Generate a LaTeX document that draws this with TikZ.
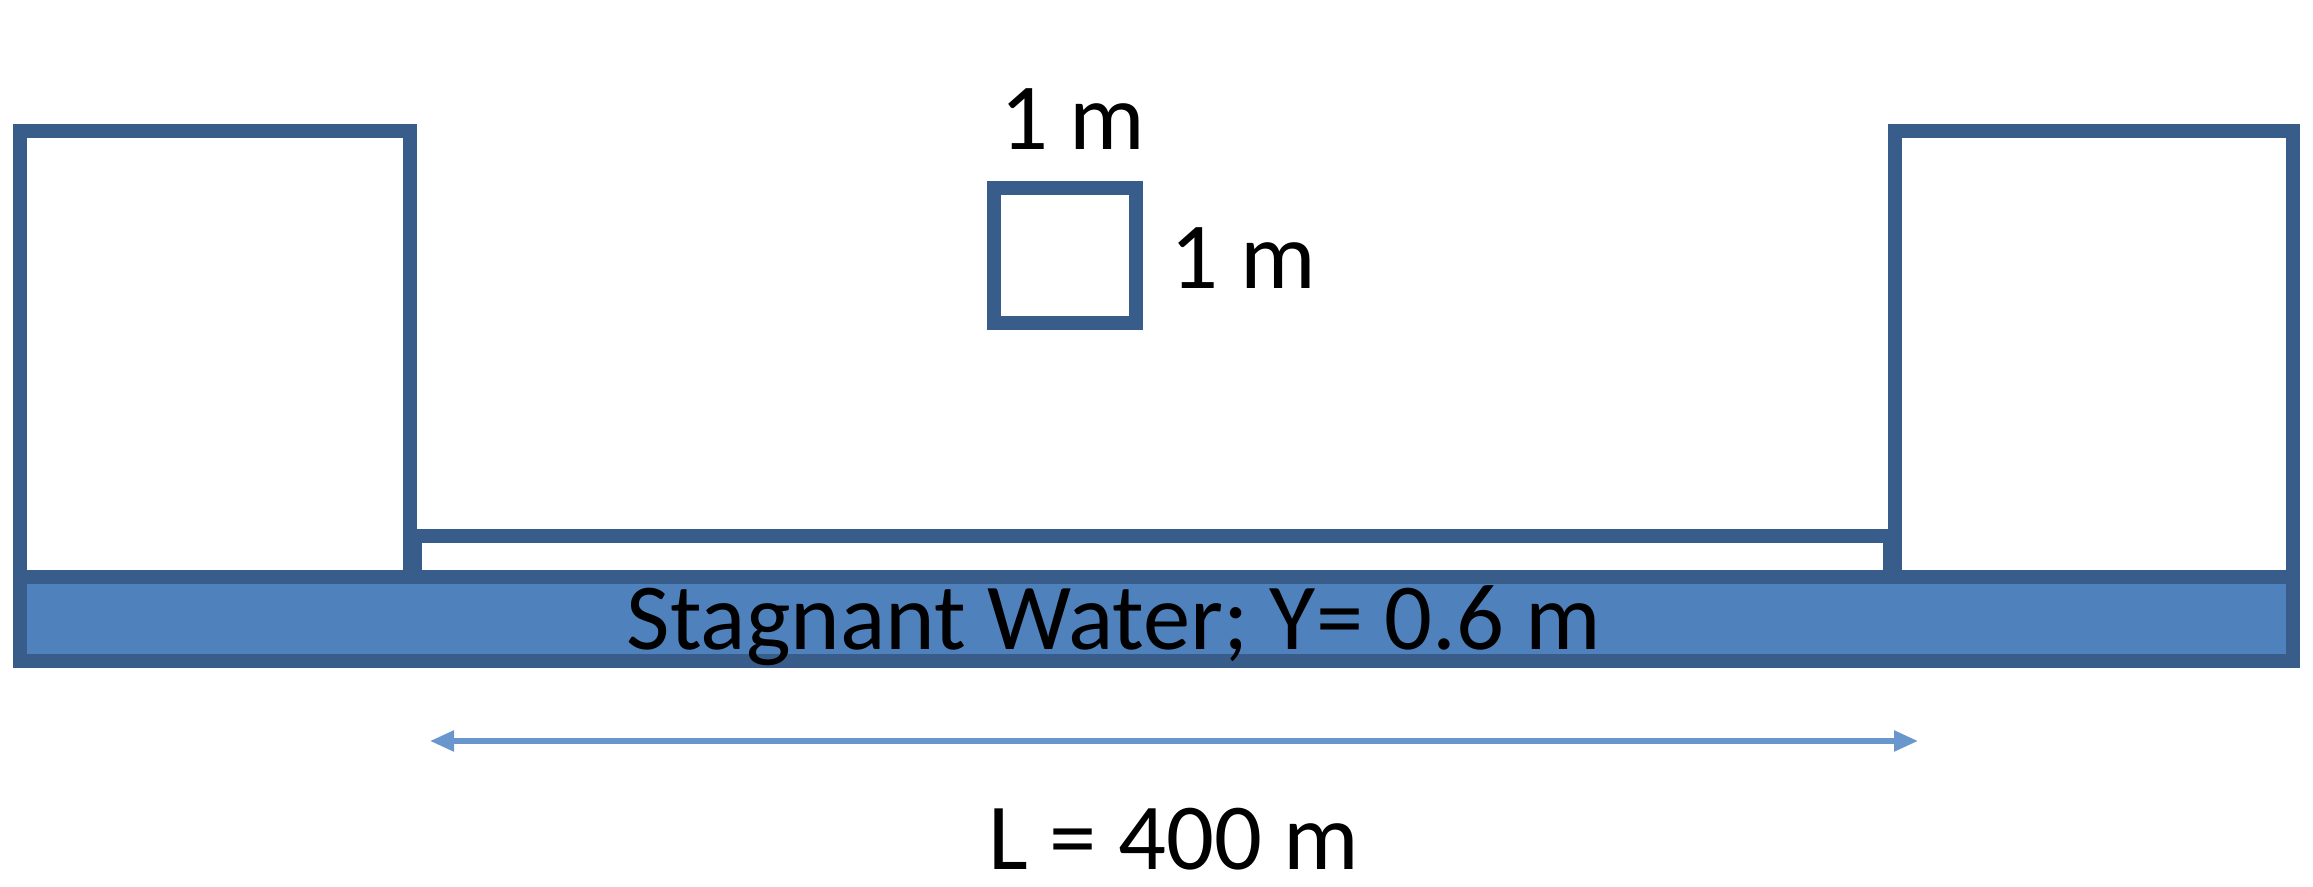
\documentclass[tikz,border=0pt]{standalone}
\usepackage{fontspec}
\setmainfont{Carlito}
\usetikzlibrary{arrows.meta}

\definecolor{rimblue}{HTML}{385D8A}
\definecolor{waterblue}{HTML}{4F81BD}
\definecolor{arrowblue}{HTML}{6A96CE}

\begin{document}
\begin{tikzpicture}[
        wall/.style={draw=rimblue, line width=3.9pt, fill=white},
        lbl/.style={anchor=base, inner sep=0pt, font=\fontsize{26.9}{32}\selectfont},
        span/.style={arrowblue, line width=1.5pt, {Triangle[length=0.24cm, width=0.2cm]}-{Triangle[length=0.24cm, width=0.2cm]}}
    ]
            \useasboundingbox ( 0, 0 ) rectangle ( 23.13, 8.87 );
            % вода
            \path [wall, fill=waterblue] ( 0.20, 2.26 ) rectangle ( 22.93, 3.10 );
            % берега
            \path [wall] ( 0.20, 3.10 ) rectangle ( 4.10, 7.56 );
            \path [wall] ( 18.95, 3.10 ) rectangle ( 22.93, 7.56 );
            % канал
            \path [wall] ( 4.15, 3.10 ) rectangle ( 18.90, 3.51 );
            % сечение
            \path [wall] ( 9.94, 5.64 ) rectangle ( 11.36, 6.99 );

            % подписи
            \node [lbl] (sqtop) at ( 10.73, 7.37 ) {1 m};
            \node [lbl, anchor=base west] (sqside) at ( 11.70, 5.98 ) {1 m};
            \node [lbl] (water) at ( 11.14, 2.37 ) {Stagnant Water; Y= 0.6 m};
            \node [lbl] (len) at ( 11.74, 0.17 ) {L = 400 m};

            % длина
            \coordinate (la) at ( 4.30, 1.46 );
            \coordinate (lb) at ( 19.18, 1.46 );
            \draw [span] (la) -- (lb);
        \end{tikzpicture}
\end{document}
